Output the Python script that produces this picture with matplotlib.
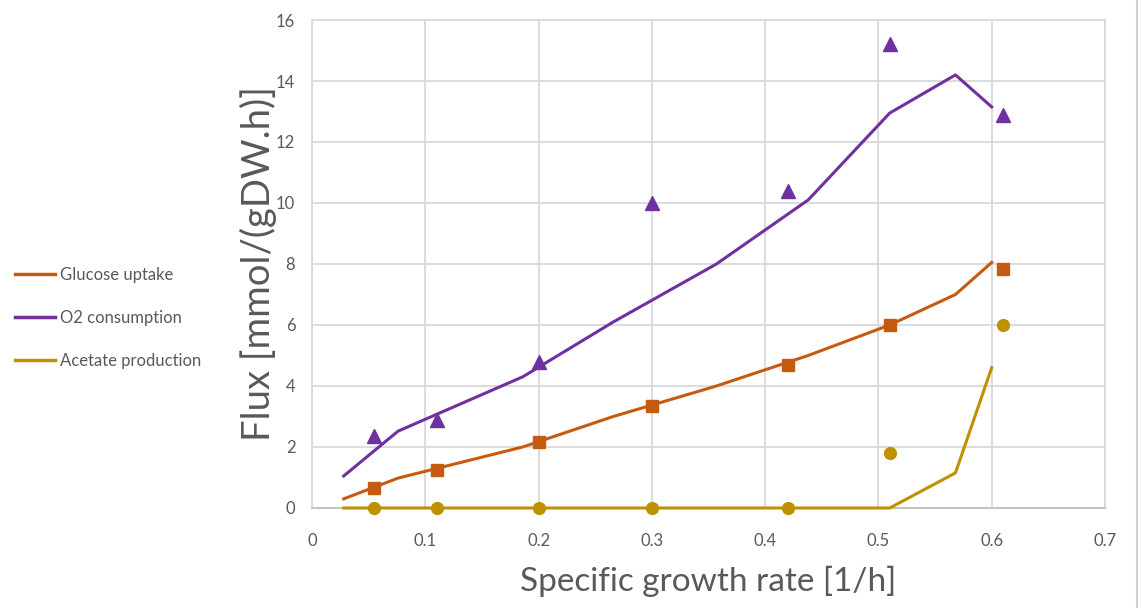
import matplotlib.pyplot as plt
from matplotlib.lines import Line2D

plt.rcParams['font.family'] = ['Lato', 'DejaVu Sans']

# model simulation (lines)
mu_sim = [0.028, 0.076, 0.186, 0.266, 0.357, 0.438, 0.510, 0.568, 0.600]
glc_sim = [0.30, 0.98, 2.00, 3.00, 4.00, 5.00, 6.00, 7.00, 8.05]
o2_sim = [1.05, 2.52, 4.30, 6.10, 8.00, 10.10, 12.95, 14.20, 13.15]
ac_sim = [0.00, 0.00, 0.00, 0.00, 0.00, 0.00, 0.00, 1.15, 4.60]

# measurements (markers)
mu_exp = [0.055, 0.11, 0.20, 0.30, 0.42, 0.51, 0.61]
glc_exp = [0.65, 1.25, 2.15, 3.35, 4.70, 6.00, 7.85]
o2_exp = [2.35, 2.90, 4.80, 10.00, 10.40, 15.20, 12.90]
ac_exp = [0.00, 0.00, 0.00, 0.00, 0.00, 1.80, 6.00]

c_glc = '#C55A11'
c_o2 = '#7030A0'
c_ac = '#BF9000'
grey = '#595959'

fig = plt.figure(figsize=(11.42, 6.08), dpi=100)
ax = fig.add_axes([0.2732, 0.1645, 0.6944, 0.8026])

ax.plot(mu_sim, ac_sim, color=c_ac, lw=2.2, zorder=3, clip_on=False)
ax.plot(mu_sim, glc_sim, color=c_glc, lw=2.2, zorder=3)
ax.plot(mu_sim, o2_sim, color=c_o2, lw=2.2, zorder=3)

ax.plot(mu_exp, ac_exp, 'o', color=c_ac, ms=8.5, zorder=4, clip_on=False)
ax.plot(mu_exp, glc_exp, 's', color=c_glc, ms=8.5, zorder=4)
ax.plot(mu_exp, o2_exp, '^', color=c_o2, ms=10, zorder=4)

ax.set_xlim(0, 0.7)
ax.set_ylim(0, 16)
ax.set_xticks([0, 0.1, 0.2, 0.3, 0.4, 0.5, 0.6, 0.7])
ax.set_xticklabels(['0', '0.1', '0.2', '0.3', '0.4', '0.5', '0.6', '0.7'])
ax.set_yticks(range(0, 17, 2))
ax.grid(True, color='#D9D9D9', lw=1.3)
ax.set_axisbelow(True)
for s in ax.spines.values():
    s.set_color('#D9D9D9')
    s.set_linewidth(1.3)
ax.spines['bottom'].set_color('#BFBFBF')
ax.tick_params(length=0, labelsize=12, labelcolor=grey, pad=12)
ax.tick_params(axis='x', pad=18)

ax.set_xlabel('Specific growth rate [1/h]', fontsize=24, color=grey, labelpad=12)
ax.set_ylabel('Flux [mmol/(gDW.h)]', fontsize=27.5, color=grey, labelpad=-1)

handles = [Line2D([], [], color=c_glc, lw=2.5),
           Line2D([], [], color=c_o2, lw=2.5),
           Line2D([], [], color=c_ac, lw=2.5)]
fig.legend(handles, ['Glucose uptake', 'O2 consumption', 'Acetate production'],
           loc='center left', bbox_to_anchor=(0.0, 0.477), frameon=False,
           fontsize=12, labelcolor=grey, handlelength=2.4, handletextpad=0.3,
           labelspacing=1.6)

# thin frame line at the right edge
fig.add_artist(Line2D([0.9956, 0.9956], [0.0, 1.0], color='#D0D0D0', lw=1.5))

fig.savefig('out.png', dpi=100)
